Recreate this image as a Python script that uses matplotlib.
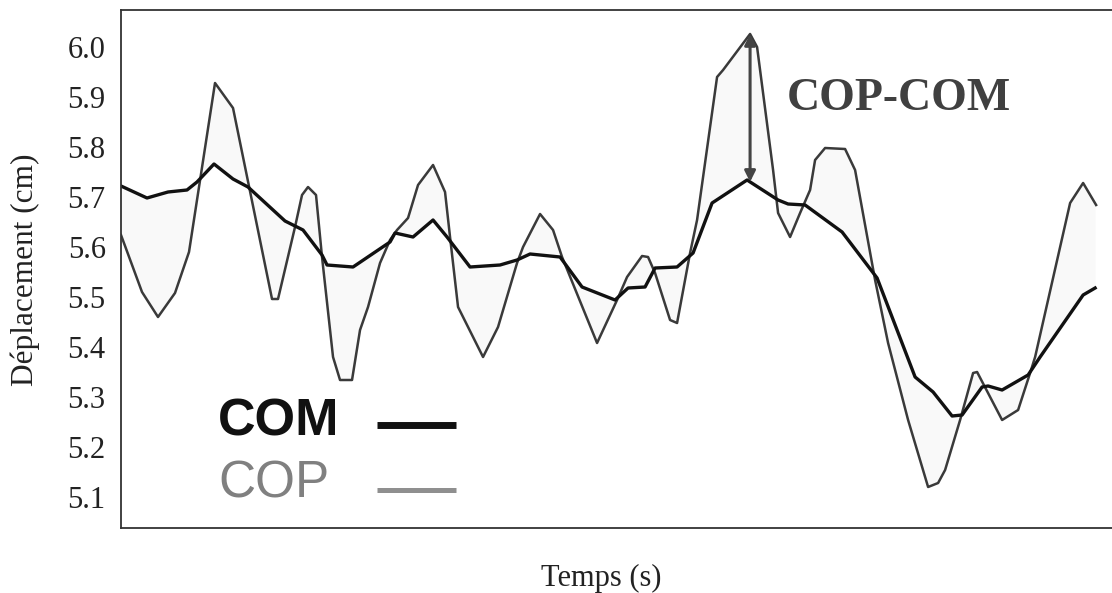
import numpy as np
import matplotlib
matplotlib.use("Agg")
import matplotlib.pyplot as plt
from matplotlib.lines import Line2D

# ---- data (time in arbitrary units, displacement in cm) ----
com_t = [0.0, 2.6, 4.7, 6.6, 7.6, 9.3, 11.2, 12.7, 16.4, 18.2, 20.1, 20.6, 23.2,
         26.9, 27.4, 29.2, 31.2, 32.6, 34.9, 37.9, 39.6, 40.9, 43.9, 46.1, 49.4,
         50.7, 52.4, 53.4, 55.6, 57.2, 59.1, 62.6, 65.7, 66.7, 68.4, 72.1, 75.6,
         79.4, 81.2, 83.1, 84.1, 86.1, 86.7, 88.1, 90.7, 91.9, 96.2, 97.4]
com_v = [5.722, 5.698, 5.710, 5.714, 5.730, 5.766, 5.736, 5.720, 5.652, 5.634,
         5.584, 5.564, 5.560, 5.610, 5.628, 5.620, 5.654, 5.620, 5.560, 5.564,
         5.574, 5.586, 5.580, 5.520, 5.494, 5.518, 5.520, 5.558, 5.560, 5.588,
         5.688, 5.734, 5.694, 5.686, 5.684, 5.630, 5.538, 5.340, 5.310, 5.262,
         5.264, 5.320, 5.322, 5.314, 5.344, 5.380, 5.504, 5.518]

cop_t = [0.0, 2.1, 3.7, 5.4, 6.8, 9.4, 11.2, 15.1, 15.7, 17.4, 18.1, 18.7, 19.5,
         20.1, 21.2, 21.9, 23.1, 23.9, 24.7, 25.9, 26.9, 27.6, 28.7, 29.7, 31.2,
         32.4, 32.9, 33.7, 36.2, 37.7, 39.6, 40.2, 41.9, 43.2, 44.1, 47.6, 49.6,
         50.6, 52.1, 52.7, 53.4, 54.9, 55.6, 56.9, 57.6, 59.6, 60.2, 62.9, 63.6,
         65.2, 65.7, 66.9, 67.9, 68.9, 69.4, 70.4, 72.4, 73.4, 75.4, 76.7, 78.7,
         80.7, 81.7, 82.4, 83.9, 85.2, 85.6, 88.1, 89.7, 90.9, 91.4, 94.9, 96.2,
         97.5]
cop_v = [5.624, 5.510, 5.460, 5.508, 5.590, 5.928, 5.878, 5.496, 5.496, 5.640,
         5.704, 5.720, 5.704, 5.580, 5.380, 5.334, 5.334, 5.434, 5.480, 5.568,
         5.614, 5.634, 5.658, 5.724, 5.764, 5.710, 5.620, 5.480, 5.380, 5.440,
         5.568, 5.600, 5.666, 5.634, 5.580, 5.408, 5.494, 5.540, 5.582, 5.580,
         5.548, 5.454, 5.448, 5.588, 5.654, 5.940, 5.954, 6.026, 6.000, 5.754,
         5.668, 5.620, 5.668, 5.714, 5.774, 5.798, 5.796, 5.754, 5.534, 5.408,
         5.254, 5.120, 5.128, 5.154, 5.254, 5.348, 5.350, 5.254, 5.274, 5.348,
         5.380, 5.688, 5.728, 5.684]

y_ticks = [5.1, 5.2, 5.3, 5.4, 5.5, 5.6, 5.7, 5.8, 5.9, 6.0]
y_ticklabels = ["5.1", "5.2", "5.3", "5.4", "5.5", "5.6", "5.7", "5.8", "5.9", "6.0"]
series_names = ["COM", "COP"]

# ---- figure ----
W, H = 1112, 593
fig = plt.figure(figsize=(W / 100, H / 100), dpi=100)
ax = fig.add_axes([121 / W, (H - 528) / H, (W - 121) / W + 0.01, (528 - 10) / H])

serif = ["Liberation Serif", "DejaVu Serif"]
sans = ["Liberation Sans", "DejaVu Sans"]

# very light shading between the two curves
t_all = np.union1d(com_t, cop_t)
t_all = t_all[t_all <= min(com_t[-1], cop_t[-1])]
com_i = np.interp(t_all, com_t, com_v)
cop_i = np.interp(t_all, cop_t, cop_v)
ax.fill_between(t_all, com_i, cop_i, color="#f9f9f9", lw=0, interpolate=True)

ax.plot(cop_t, cop_v, color="#3a3a3a", lw=1.8, solid_joinstyle="round")
ax.plot(com_t, com_v, color="#111111", lw=2.4, solid_joinstyle="round")

ax.set_xlim(0, 100.2)
ax.set_ylim(5.038, 6.074)
ax.set_xticks([])
ax.set_yticks(y_ticks)
ax.set_yticklabels(y_ticklabels, fontfamily=serif, fontsize=22, color="#222222")
ax.tick_params(axis="y", length=0, pad=11)

for s in ["left", "top", "bottom"]:
    ax.spines[s].set_color("#333333")
    ax.spines[s].set_linewidth(1.3)
ax.spines["right"].set_visible(False)

# axis labels
fig.text(25 / W, 1 - 270 / H, "Déplacement (cm)", rotation=90, ha="center", va="center",
         fontfamily=serif, fontsize=22.5, color="#222222")
fig.text(601 / W, 1 - 578 / H, "Temps (s)", ha="center", va="center",
         fontfamily=serif, fontsize=22, color="#222222")

# COP-COM arrow at COP maximum
i_max = int(np.argmax(cop_v))
t_pk = cop_t[i_max]
com_at_pk = float(np.interp(t_pk, com_t, com_v))
ax.annotate("", xy=(t_pk, cop_v[i_max]), xytext=(t_pk, com_at_pk),
            arrowprops=dict(arrowstyle="<|-|>", color="#444444", lw=2.2,
                            mutation_scale=16, shrinkA=0, shrinkB=0))
fig.text(787 / W, 1 - 110 / H, "COP-COM", ha="left", va="baseline",
         fontfamily=serif, fontweight="bold", fontsize=33, color="#404040")

# legend (drawn manually: texts left-aligned, swatches to the right)
fig.text(218 / W, 1 - 436 / H, series_names[0], ha="left", va="baseline",
         fontfamily=sans, fontweight="bold", fontsize=37.5, color="#111111")
fig.text(218 / W, 1 - 498 / H, series_names[1], ha="left", va="baseline",
         fontfamily=sans, fontsize=37, color="#808080")
fig.add_artist(Line2D([377 / W, 456 / W], [1 - 425 / H, 1 - 425 / H],
                      color="#111111", lw=5.0, solid_capstyle="butt"))
fig.add_artist(Line2D([377 / W, 456 / W], [1 - 490 / H, 1 - 490 / H],
                      color="#8f8f8f", lw=3.6, solid_capstyle="butt"))

fig.savefig("out.png", dpi=100, facecolor="white")
